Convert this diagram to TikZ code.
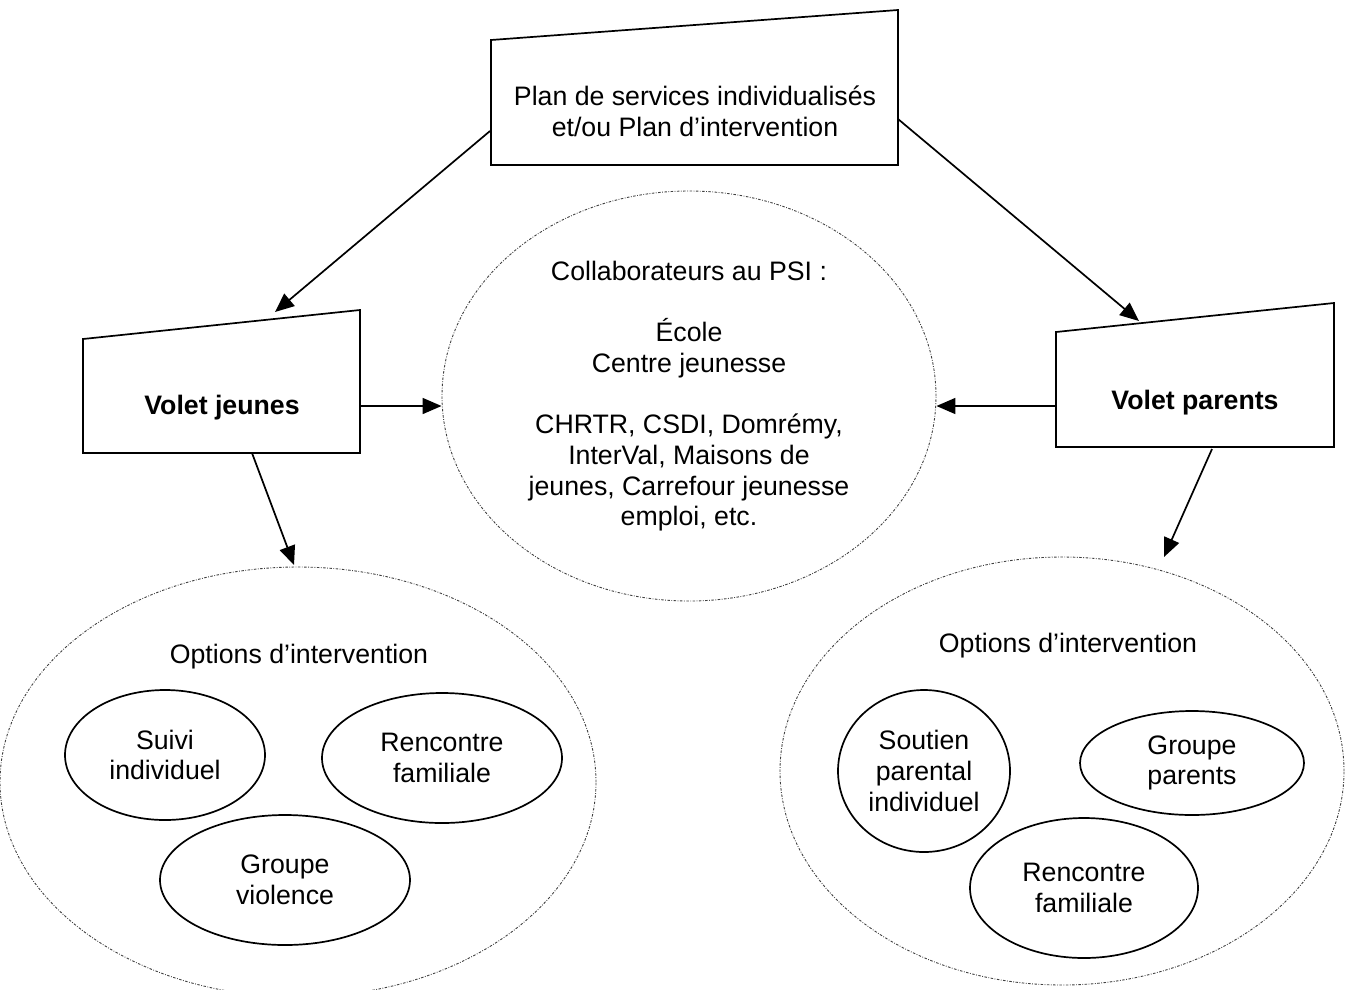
\documentclass[tikz,border=0pt]{standalone}
\usepackage{fontspec}
\setmainfont{Liberation Sans}
\usetikzlibrary{shapes.geometric,arrows.meta}
\begin{document}
\begin{tikzpicture}[x=1pt,y=-1pt,
  every node/.style={font=\fontsize{26.7}{30.7}\selectfont, inner sep=0pt, align=center},
  boxline/.style={draw, line width=1.7pt, line join=miter},
  outerell/.style={ellipse, draw=black!75, line width=0.9pt, dash pattern=on 2.5pt off 1.5pt on 0.8pt off 1.5pt},
  innerell/.style={ellipse, draw, line width=1.7pt},
  arr/.style={line width=1.7pt, -{Triangle[length=19pt,width=16pt]}},
  boldtxt/.style={font=\fontsize{26.7}{30.7}\selectfont\bfseries}
]
\useasboundingbox (0,0) rectangle (1346,989);

% trapezoid boxes
\draw[boxline] (491,40) -- (898,10) -- (898,165) -- (491,165) -- cycle;
\node (psi) at (695,111) {Plan de services individualisés\\et/ou Plan d’intervention};

\draw[boxline] (83,339) -- (360,310) -- (360,453) -- (83,453) -- cycle;
\node[boldtxt] (vj) at (222,408) {Volet jeunes};

\draw[boxline] (1056,332) -- (1334,303) -- (1334,447) -- (1056,447) -- cycle;
\node[boldtxt] (vp) at (1195,403) {Volet parents};

% central ellipse
\node[outerell, minimum width=494pt, minimum height=410pt] (collab) at (689,396)
  {Collaborateurs au PSI :\\ \mbox{}\\École\\Centre jeunesse\\ \mbox{}\\CHRTR, CSDI, Domrémy,\\InterVal, Maisons de\\jeunes, Carrefour jeunesse\\emploi, etc.};

% left options
\node[outerell, minimum width=596pt, minimum height=430pt] (optL) at (298,782) {};
\node (optLt) at (299,657) {Options d’intervention};
\node[innerell, minimum width=200pt, minimum height=130pt] (suivi) at (165,755) {Suivi\\individuel};
\node[innerell, minimum width=240pt, minimum height=130pt] (rencL) at (442,758) {Rencontre\\familiale};
\node[innerell, minimum width=250pt, minimum height=130pt] (grpv) at (285,880) {Groupe\\violence};

% right options
\node[outerell, minimum width=564pt, minimum height=428pt] (optR) at (1062,771) {};
\node (optRt) at (1068,646) {Options d’intervention};
\node[innerell, minimum width=172pt, minimum height=162pt] (soutien) at (924,771) {Soutien\\parental\\individuel};
\node[innerell, minimum width=224pt, minimum height=104pt] (grpp) at (1192,763) {Groupe\\parents};
\node[innerell, minimum width=228pt, minimum height=140pt] (rencR) at (1084,888) {Rencontre\\familiale};

% connector end points
\coordinate (psiL) at (490,131);
\coordinate (psiR) at (898,119);
\coordinate (vjTop) at (275,312);
\coordinate (vpTop) at (1139,321);
\coordinate (vjRight) at (360,406);
\coordinate (vpLeft) at (1056,406);
\coordinate (vjBot) at (252,453);
\coordinate (vpBot) at (1212,449);
\coordinate (optLtop) at (294,565);
\coordinate (optRtop) at (1164,557);

\draw[arr] (psiL) -- (vjTop);
\draw[arr] (psiR) -- (vpTop);
\draw[arr] (vjRight) -- (vjRight -| collab.west);
\draw[arr] (vpLeft) -- (vpLeft -| collab.east);
\draw[arr] (vjBot) -- (optLtop);
\draw[arr] (vpBot) -- (optRtop);
\end{tikzpicture}
\end{document}
